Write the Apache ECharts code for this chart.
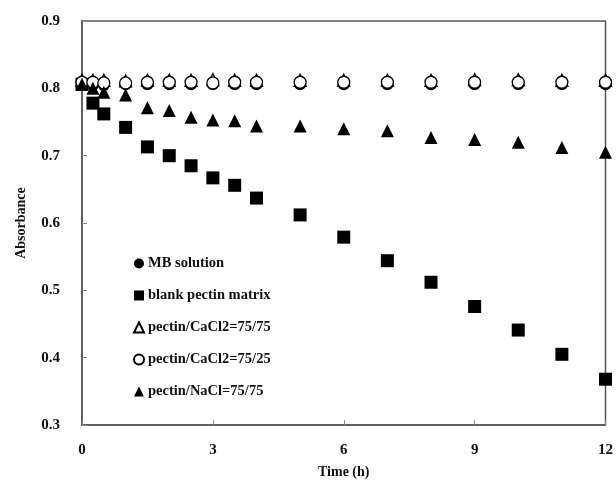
<!DOCTYPE html>
<html>
<head>
<meta charset="utf-8">
<script src="https://cdn.jsdelivr.net/npm/echarts@6/dist/echarts.min.js"></script>
<style>
  html, body { margin: 0; padding: 0; background: #fff; }
  #chart { width: 616px; height: 492px; }
</style>
</head>
<body>
<div id="chart"></div>
<script>
// time points (h)
const timeShort = [0, 0.25, 0.5, 1, 1.5, 2, 2.5, 3, 3.5, 4, 5, 6, 7, 8, 9, 10, 11, 12]

const mbSolution = [0.805, 0.805, 0.805, 0.806, 0.806, 0.806, 0.806, 0.806, 0.806, 0.806, 0.806, 0.806, 0.806, 0.806, 0.806, 0.806, 0.806, 0.806]
const blankMatrix = [0.806, 0.778, 0.762, 0.742, 0.713, 0.700, 0.685, 0.667, 0.656, 0.637, 0.612, 0.579, 0.544, 0.512, 0.476, 0.441, 0.405, 0.368]
const caCl7575 = [0.812, 0.812, 0.812, 0.811, 0.812, 0.812, 0.812, 0.813, 0.812, 0.812, 0.812, 0.812, 0.812, 0.812, 0.813, 0.813, 0.812, 0.812]
const caCl7525 = [0.809, 0.809, 0.808, 0.808, 0.809, 0.809, 0.809, 0.808, 0.809, 0.809, 0.809, 0.809, 0.809, 0.809, 0.809, 0.809, 0.809, 0.809]
const naCl7575 = [0.806, 0.800, 0.794, 0.790, 0.771, 0.767, 0.757, 0.753, 0.752, 0.744, 0.744, 0.740, 0.737, 0.727, 0.724, 0.720, 0.712, 0.705]

const xTicks = [0, 3, 6, 9, 12]
const yTicks = [0.3, 0.4, 0.5, 0.6, 0.7, 0.8, 0.9]

const font = 'Liberation Serif'

function pairs(ys) {
  return timeShort.map((t, i) => [t, ys[i]])
}

const chart = echarts.init(document.getElementById('chart'), null, { renderer: 'canvas' })

const filled = { color: '#000', borderColor: '#000', borderWidth: 0, opacity: 1 }
const hollow = { color: '#fff', borderColor: '#000', borderWidth: 1.3, opacity: 1 }

chart.setOption({
  animation: false,
  backgroundColor: '#fff',
  grid: {
    left: 82,
    right: 9,
    top: 21,
    bottom: 67,
    show: true,
    borderColor: '#555',
    borderWidth: 1.5,
    backgroundColor: 'transparent'
  },
  legend: {
    orient: 'vertical',
    left: 128,
    top: 251,
    itemWidth: 10,
    itemHeight: 10,
    itemGap: 17,
    textStyle: {
      fontFamily: font,
      fontWeight: 'bold',
      fontSize: 14.5,
      color: '#111',
      lineHeight: 14,
      padding: [0, 0, 0, -1]
    },
    data: ['MB solution', 'blank pectin matrix', 'pectin/CaCl2=75/75', 'pectin/CaCl2=75/25', 'pectin/NaCl=75/75']
  },
  xAxis: {
    type: 'value',
    min: 0,
    max: 12,
    interval: 3,
    name: 'Time (h)',
    nameLocation: 'middle',
    nameGap: 40,
    nameTextStyle: { fontFamily: font, fontWeight: 'bold', fontSize: 14, color: '#111' },
    axisLine: { lineStyle: { color: '#555', width: 1.5 } },
    axisTick: { inside: true, length: 5, lineStyle: { color: '#888' } },
    axisLabel: {
      margin: 18,
      fontFamily: font,
      fontWeight: 'bold',
      fontSize: 15,
      color: '#111',
      formatter: v => (xTicks.includes(v) ? String(v) : '')
    },
    splitLine: { show: false }
  },
  yAxis: {
    type: 'value',
    min: 0.3,
    max: 0.9,
    interval: 0.1,
    name: 'Absorbance',
    nameLocation: 'middle',
    nameGap: 54,
    nameTextStyle: { fontFamily: font, fontWeight: 'bold', fontSize: 14, color: '#111' },
    axisLine: { show: true, lineStyle: { color: '#555', width: 1.5 } },
    axisTick: { show: true, inside: true, length: 5, lineStyle: { color: '#888' } },
    axisLabel: {
      margin: 22,
      fontFamily: font,
      fontWeight: 'bold',
      fontSize: 15,
      color: '#111',
      formatter: v => {
        const t = yTicks.find(y => Math.abs(y - v) < 1e-6)
        return t !== undefined ? t.toFixed(1) : ''
      }
    },
    splitLine: { show: false }
  },
  series: [
    {
      name: 'MB solution',
      type: 'scatter',
      symbol: 'circle',
      symbolSize: 12,
      itemStyle: filled,
      data: pairs(mbSolution)
    },
    {
      name: 'blank pectin matrix',
      type: 'scatter',
      symbol: 'rect',
      symbolSize: 13,
      itemStyle: filled,
      data: pairs(blankMatrix)
    },
    {
      name: 'pectin/CaCl2=75/75',
      type: 'scatter',
      symbol: 'triangle',
      symbolSize: 12,
      itemStyle: hollow,
      data: pairs(caCl7575)
    },
    {
      name: 'pectin/CaCl2=75/25',
      type: 'scatter',
      symbol: 'circle',
      symbolSize: 12,
      itemStyle: hollow,
      data: pairs(caCl7525)
    },
    {
      name: 'pectin/NaCl=75/75',
      type: 'scatter',
      symbol: 'triangle',
      symbolSize: 13,
      itemStyle: filled,
      data: pairs(naCl7575)
    }
  ]
})
</script>
</body>
</html>
